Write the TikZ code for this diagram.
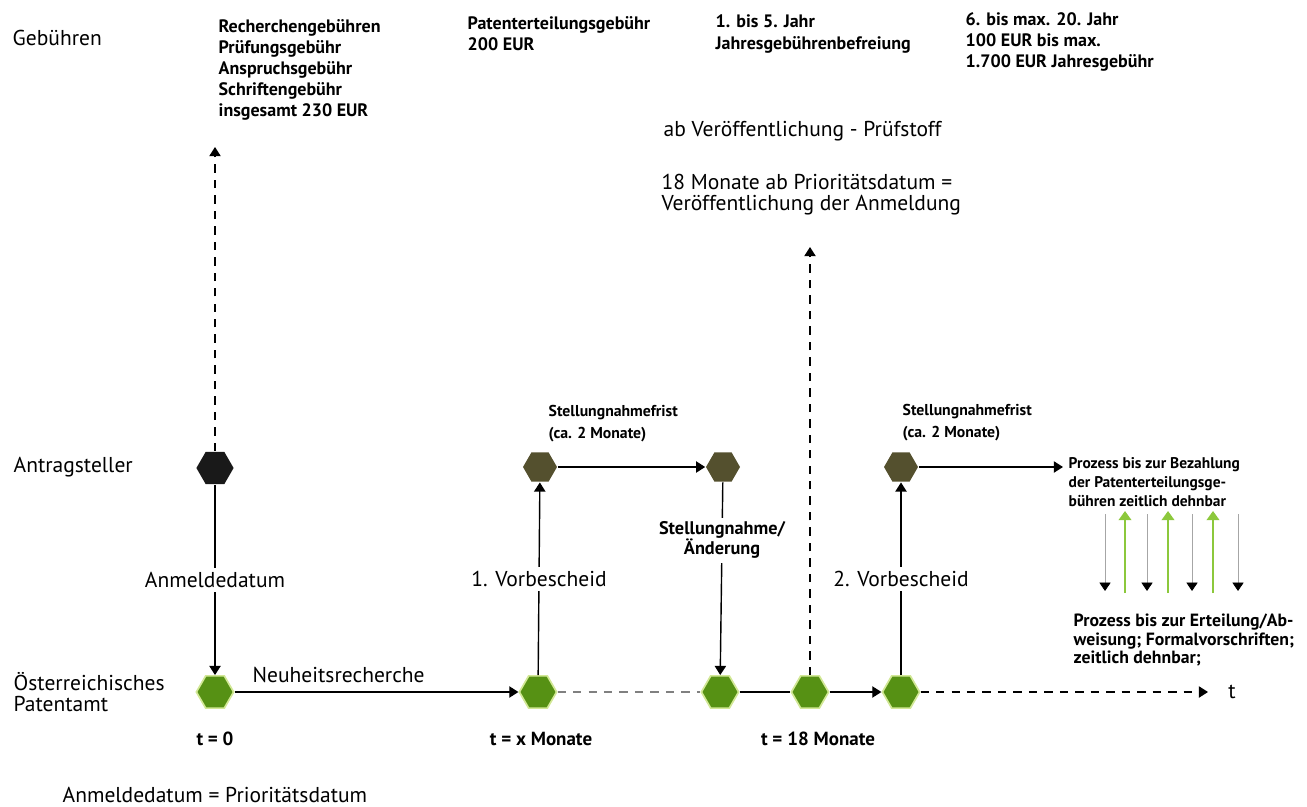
\documentclass[tikz,border=0pt]{standalone}
\usepackage{fontspec}
\setmainfont{PT Sans}
\usetikzlibrary{arrows.meta, shapes.geometric, positioning}
\definecolor{hexgreen}{RGB}{86,145,20}
\definecolor{hexrim}{RGB}{210,232,150}
\definecolor{hexolive}{RGB}{84,80,46}
\definecolor{upgreen}{RGB}{140,200,60}

\begin{document}
\begin{tikzpicture}[x=0.025cm, y=-0.025cm, line width=1pt,
		hex/.style={regular polygon, regular polygon sides=6, minimum size=0.93cm, inner sep=0pt},
		lbl/.style={font=\fontsize{15.3}{18}\selectfont, inner sep=0pt, align=left},
		fee/.style={font=\fontsize{12.8}{15}\selectfont\bfseries, inner sep=0pt, align=left},
		frist/.style={font=\fontsize{11.2}{15.5}\selectfont\bfseries, inner sep=0pt, align=left},
		onl/.style={fill=white, inner sep=3pt},
		tip/.style={-{Triangle[width=8pt,length=6.5pt]}},
		dsh/.style={dash pattern=on 6pt off 5pt}]
		\useasboundingbox (0,0) rectangle (1307,807);
		\node[lbl, anchor=west] (geb) at (12,38) {Gebühren};
		\node[lbl, anchor=west] (ant) at (13,467) {Antragsteller};
		\node[lbl, anchor=west, font=\fontsize{15.3}{15}\selectfont] (opa) at (13,692) {Österreichisches\\Patentamt};
		\node[fee, anchor=west] (f1) at (218,70) {Recherchengebühren\\Prüfungsgebühr\\Anspruchsgebühr\\Schriftengebühr\\insgesamt 230 EUR};
		\node[fee, anchor=west] (f2) at (467,34) {Patenterteilungsgebühr\\200 EUR};
		\node[fee, anchor=west] (f3) at (715,34) {1. bis 5. Jahr\\Jahresgebührenbefreiung};
		\node[fee, anchor=west] (f4) at (965,42) {6. bis max. 20. Jahr\\100 EUR bis max.\\1.700 EUR Jahresgebühr};
		\node[lbl, anchor=west] (pruef) at (663,131) {ab Veröffentlichung - Prüfstoff};
		\node[lbl, anchor=west, font=\fontsize{15.3}{15}\selectfont] (veroe) at (661,194.5) {18 Monate ab Prioritätsdatum =\\Veröffentlichung der Anmeldung};
		\node[frist, anchor=west] (frist1) at (548,424) {Stellungnahmefrist\\(ca. 2 Monate)};
		\node[frist, anchor=west] (frist2) at (902,423) {Stellungnahmefrist\\(ca. 2 Monate)};
		\node[frist, anchor=west, font=\fontsize{11}{13.5}\selectfont\bfseries] (proz1) at (1068,482) {Prozess bis zur Bezahlung\\der Patenterteilungsge-\\bühren zeitlich dehnbar};
		\node[frist, anchor=west, font=\fontsize{12.6}{13}\selectfont\bfseries] (proz2) at (1073,640) {Prozess bis zur Erteilung/Ab-\\weisung; Formalvorschriften;\\zeitlich dehnbar;};
		\node[lbl, anchor=west] (neu) at (252,675) {Neuheitsrecherche};
		\node[lbl, anchor=west] (prio) at (62,795) {Anmeldedatum = Prioritätsdatum};
		\node[hex, fill=black!90] (a0) at (215,468) {};
		\foreach \x/\n in {215/pa1, 538/pa2, 720/pa3, 810/pa4, 901/pa5}{
			\node[hex, fill=hexgreen, draw=hexrim, line width=1.2pt] (\n) at (\x,692) {};
		}
		\foreach \x/\n in {540/as1, 723/as2, 901/as3}{
			\node[hex, minimum size=0.85cm, fill=hexolive] (\n) at (\x,467) {};
		}
		\foreach \x/\n/\name in {215/t0/{t = 0}, 541/tx/{t = x Monate}, 818/t18/{t = 18 Monate}}{
			\node[fee, font=\fontsize{13.5}{15}\selectfont\bfseries] (\n) at (\x,739) {\name};
		}
		\coordinate (g1) at (215,147);
		\coordinate (g2) at (810,247);
		\coordinate (tend) at (1208,692);
		\coordinate (bez) at (1063,467);
		\node[lbl] (t) at (1232,692) {t};
		\draw[tip, dsh] (a0) -- (g1);
		\draw[tip, dsh] (pa4) -- (g2);
		\draw[tip] (a0) -- node[lbl, onl] {Anmeldedatum} (pa1);
		\draw[tip] (pa1) -- (pa2);
		\draw[gray, dsh] (pa2) -- (pa3);
		\draw (pa3) -- (pa4);
		\draw[tip] (pa4) -- (pa5);
		\draw[tip, dsh] (pa5) -- (tend);
		\draw[tip] (pa2) -- node[lbl, onl] {1. Vorbescheid} (as1);
		\draw[tip] (as2) -- node[frist, onl, pos=0.3, align=center, font=\fontsize{13}{14}\selectfont\bfseries] {Stellungnahme/\\Änderung} (pa3);
		\draw[tip] (pa5) -- node[lbl, onl] {2. Vorbescheid} (as3);
		\draw[tip] (as1) -- (as2);
		\draw[tip] (as3) -- (bez);
		\foreach \x [count=\i] in {1105,1147,1192,1238}{
			\coordinate (d\i) at (\x,514);
			\coordinate (e\i) at (\x,591);
			\draw[gray!70, line width=0.6pt, -{Triangle[width=8pt,length=6pt,black]}] (d\i) -- (e\i);
		}
		\foreach \x [count=\i] in {1125,1168,1213}{
			\coordinate (u\i) at (\x,593);
			\coordinate (v\i) at (\x,511);
			\draw[upgreen, line width=1.3pt, -{Triangle[width=9pt,length=6.5pt]}] (u\i) -- (v\i);
		}
	\end{tikzpicture}
\end{document}
